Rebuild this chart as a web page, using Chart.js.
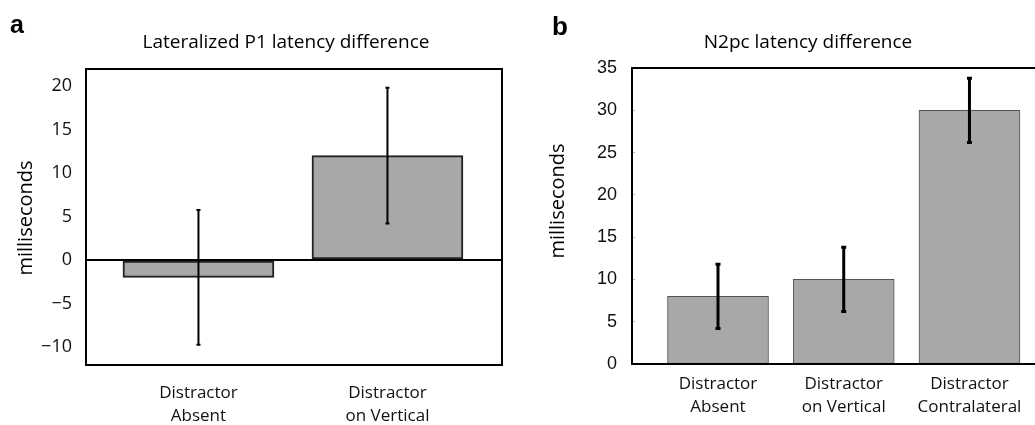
<!DOCTYPE html>
<html>
<head>
<title>Latency differences</title>
<script src="https://cdn.jsdelivr.net/npm/chart.js"></script>
<style>
  html, body { margin: 0; padding: 0; background: #fff; }
  body { position: relative; width: 1035px; height: 425px; overflow: hidden; }
  canvas { position: absolute; top: 0; }
  #p1Chart { left: 0; }
  #n2pcChart { left: 520px; }
</style>
</head>
<body>
<canvas id="p1Chart" width="520" height="425"></canvas>
<canvas id="n2pcChart" width="525" height="425"></canvas>

<script>
// panel a: lateralized P1 latency difference
const p1Categories = [['Distractor', 'Absent'], ['Distractor', 'on Vertical']];
const p1Values = [-2, 12];
const p1Errors = [7.75, 7.8];
const p1Ticks = [20, 15, 10, 5, 0, -5, -10];

// panel b: N2pc latency difference
const n2pcCategories = [['Distractor', 'Absent'], ['Distractor', 'on Vertical'], ['Distractor', 'Contralateral']];
const n2pcValues = [8, 10, 30];
const n2pcErrors = [3.8, 3.8, 3.8];
const n2pcTicks = [35, 30, 25, 20, 15, 10, 5, 0];

const labelFont = { family: 'Open Sans', size: 17, lineHeight: 1.38 };

// box round the plot area
const frameBox = {
    id: 'frameBox',
    afterDatasetsDraw(chart, args, opts) {
        const { ctx, chartArea: a } = chart;
        ctx.save();
        ctx.strokeStyle = '#000';
        ctx.lineWidth = opts.width;
        ctx.strokeRect(a.left, a.top, a.right - a.left, a.bottom - a.top);
        ctx.restore();
    }
};

// error bars, mapped through the chart scales
const errorBars = {
    id: 'errorBars',
    afterDatasetsDraw(chart, args, opts) {
        const { ctx } = chart;
        const xs = chart.scales.x, ys = chart.scales.y;
        ctx.save();
        ctx.strokeStyle = '#000';
        ctx.lineWidth = opts.width;
        chart.data.datasets[0].data.forEach((p, i) => {
            const e = opts.errors[i];
            const px = xs.getPixelForValue(p.x);
            const top = ys.getPixelForValue(p.y + e);
            const bot = ys.getPixelForValue(p.y - e);
            ctx.beginPath();
            ctx.moveTo(px, top); ctx.lineTo(px, bot);
            ctx.moveTo(px - opts.cap, top); ctx.lineTo(px + opts.cap, top);
            ctx.moveTo(px - opts.cap, bot); ctx.lineTo(px + opts.cap, bot);
            ctx.stroke();
        });
        ctx.restore();
    }
};

// panel letter, title and axis title
const panelText = {
    id: 'panelText',
    afterDraw(chart, args, opts) {
        const ctx = chart.ctx;
        opts.items.forEach(t => {
            ctx.save();
            ctx.translate(t.x, t.y);
            ctx.rotate(t.rotate || 0);
            ctx.font = t.font;
            ctx.fillStyle = '#000';
            ctx.textAlign = t.align || 'center';
            ctx.textBaseline = t.baseline || 'alphabetic';
            ctx.fillText(t.text, 0, 0);
            ctx.restore();
        });
    }
};

function barChart(id, cats, values, errors, ticks, o) {
    return new Chart(document.getElementById(id), {
        type: 'bar',
        data: {
            datasets: [{
                data: values.map((v, i) => ({ x: i, y: v })),
                backgroundColor: '#a8a8a8',
                borderColor: o.barBorder,
                borderWidth: o.barBorderWidth,
                borderSkipped: false,
                barThickness: o.barThickness
            }]
        },
        options: {
            responsive: false,
            animation: false,
            layout: { padding: o.padding },
            plugins: {
                legend: { display: false },
                tooltip: { enabled: false },
                frameBox: { width: 2 },
                errorBars: { errors: errors, width: o.errWidth, cap: o.cap },
                panelText: { items: o.texts }
            },
            scales: {
                x: {
                    type: 'linear',
                    offset: false,
                    min: o.xMin,
                    max: o.xMax,
                    grid: { display: false, offset: false },
                    border: { display: false },
                    afterBuildTicks: s => { s.ticks = cats.map((c, i) => ({ value: i })); },
                    afterFit: s => { s.height = o.xHeight; },
                    ticks: {
                        callback: v => cats[v],
                        autoSkip: false,
                        maxRotation: 0,
                        padding: o.xPad,
                        color: '#111',
                        font: labelFont
                    }
                },
                y: {
                    min: o.yMin,
                    max: o.yMax,
                    grid: o.yGrid,
                    border: { display: false },
                    afterBuildTicks: s => { s.ticks = ticks.map(v => ({ value: v })); },
                    afterFit: s => { s.width = o.yWidth; },
                    ticks: {
                        callback: v => (v < 0 ? '\u2212' + Math.abs(v) : v),
                        padding: o.yPad,
                        color: '#111',
                        font: o.yFont
                    }
                }
            }
        },
        plugins: [frameBox, errorBars, panelText]
    });
}

barChart('p1Chart', p1Categories, p1Values, p1Errors, p1Ticks, {
    padding: { top: 69, right: 18, left: 0, bottom: 0 },
    xMin: -0.595, xMax: 1.606, xHeight: 60, xPad: 8,
    yMin: -12.07, yMax: 21.95, yWidth: 86, yPad: 14,
    yFont: { family: 'Open Sans', size: 18 },
    yGrid: {
        drawTicks: false,
        lineWidth: 2,
        color: c => (c.tick && c.tick.value === 0 ? '#000' : 'rgba(0,0,0,0)')
    },
    barThickness: 151, barBorder: '#222', barBorderWidth: 2,
    errWidth: 2, cap: 2,
    texts: [
        { text: 'a', x: 10, y: 33, align: 'left', font: 'bold 25px "Liberation Sans"' },
        { text: 'Lateralized P1 latency difference', x: 286, y: 48, font: '19px "Open Sans"' },
        { text: 'milliseconds', x: 26, y: 218, rotate: -Math.PI / 2, baseline: 'middle', font: '20px "Open Sans"' }
    ]
});

barChart('n2pcChart', n2pcCategories, n2pcValues, n2pcErrors, n2pcTicks, {
    padding: { top: 68, right: 5, left: 0, bottom: 0 },
    xMin: -0.684, xMax: 2.561, xHeight: 61, xPad: 0,
    yMin: 0, yMax: 35, yWidth: 112, yPad: 18,
    yFont: { family: 'Liberation Sans', size: 18 },
    yGrid: {
        drawOnChartArea: false,
        drawTicks: true,
        tickLength: -3,
        lineWidth: 1,
        color: '#bbb'
    },
    barThickness: 101, barBorder: '#555', barBorderWidth: 1,
    errWidth: 3, cap: 2.5,
    texts: [
        { text: 'b', x: 32, y: 35, align: 'left', font: 'bold 26px "Liberation Sans"' },
        { text: 'N2pc latency difference', x: 288, y: 48, font: '19px "Open Sans"' },
        { text: 'milliseconds', x: 38, y: 201, rotate: -Math.PI / 2, baseline: 'middle', font: '20px "Open Sans"' }
    ]
});
</script>
</body>
</html>
